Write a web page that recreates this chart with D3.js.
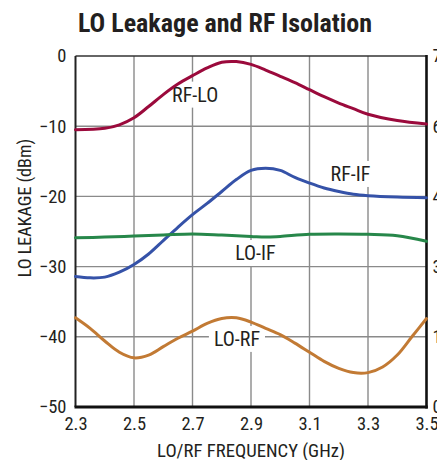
<!DOCTYPE html>
<html><head><meta charset="utf-8">
<script src="https://cdn.jsdelivr.net/npm/d3@7"></script>
<style>
html,body{margin:0;padding:0;background:#fff;overflow:hidden}
text{font-family:"Liberation Sans Narrow","Arial Narrow","Roboto Condensed","DejaVu Sans Condensed",sans-serif;font-stretch:condensed;fill:#231f20}
</style></head>
<body><svg id="c" width="437" height="460"></svg>
<script>
const title = "LO Leakage and RF Isolation";
const xTicks = [2.3, 2.5, 2.7, 2.9, 3.1, 3.3, 3.5];
const yTicks = [0, -10, -20, -30, -40, -50];
const yRightTicks = [75, 60, 45, 30, 15, 0];
const xLabel = "LO/RF FREQUENCY (GHz)";
const yLabel = "LO LEAKAGE (dBm)";

const rfLoFreq = [2.3,2.4,2.45,2.5,2.55,2.6,2.65,2.7,2.75,2.8,2.85,2.9,2.95,3.0,3.05,3.1,3.15,3.2,3.25,3.3,3.4,3.5];
const rfLo     = [-10.5,-10.3,-9.8,-8.8,-7.2,-5.5,-4.0,-2.8,-1.7,-0.9,-0.8,-1.2,-2.0,-2.9,-3.8,-4.8,-5.8,-6.7,-7.5,-8.3,-9.2,-9.7];

const rfIfFreq = [2.3,2.35,2.4,2.45,2.5,2.55,2.6,2.65,2.7,2.75,2.8,2.85,2.9,2.95,3.0,3.05,3.1,3.15,3.2,3.25,3.3,3.4,3.5];
const rfIf     = [-31.4,-31.6,-31.5,-30.8,-29.7,-28.2,-26.3,-24.4,-22.6,-21.0,-19.3,-17.6,-16.3,-16.0,-16.3,-17.3,-18.1,-18.8,-19.3,-19.7,-19.9,-20.1,-20.2];

const loIfFreq = [2.3,2.4,2.5,2.6,2.7,2.8,2.9,2.95,3.0,3.1,3.2,3.3,3.4,3.5];
const loIf     = [-25.9,-25.8,-25.65,-25.5,-25.35,-25.5,-25.7,-25.8,-25.7,-25.4,-25.35,-25.4,-25.6,-26.4];

const loRfFreq = [2.3,2.35,2.4,2.45,2.5,2.55,2.6,2.65,2.7,2.75,2.8,2.85,2.9,2.95,3.0,3.05,3.1,3.15,3.2,3.25,3.3,3.35,3.4,3.45,3.5];
const loRf     = [-37.3,-38.8,-40.6,-42.2,-43.0,-42.6,-41.4,-40.2,-39.2,-38.1,-37.4,-37.3,-37.9,-38.8,-39.7,-40.9,-42.2,-43.5,-44.5,-45.1,-45.1,-44.3,-42.6,-40.0,-37.4];

const seriesNames = ["RF-LO","RF-IF","LO-IF","LO-RF"];
const seriesColors = ["#9b0a3c","#3552a8","#27874a","#c27a34"];

const svg = d3.select("#c");
const L = 75.5, R = 426.5, T = 56, B = 407;
const x = d3.scaleLinear().domain([2.3, 3.5]).range([L, R]);
const y = d3.scaleLinear().domain([-50, 0]).range([B, T]);
const y2 = d3.scaleLinear().domain([0, 75]).range([B, T]);

// title
svg.append("text").attr("x", 225).attr("y", 32).attr("text-anchor","middle")
  .style("font-size","26px").style("font-weight","bold").text(title);

// grid
const g = svg.append("g");
g.selectAll(".gx").data(xTicks.slice(1,-1)).join("line")
  .attr("x1", d=>x(d)).attr("x2", d=>x(d)).attr("y1", T).attr("y2", B)
  .attr("stroke","#8a8a8a").attr("stroke-width",1.4);
g.selectAll(".gy").data(yTicks.slice(1,-1)).join("line")
  .attr("x1", L).attr("x2", R).attr("y1", d=>y(d)).attr("y2", d=>y(d))
  .attr("stroke","#8a8a8a").attr("stroke-width",1.4);

// axes with d3
const yAxis = d3.axisLeft(y).tickValues(yTicks).tickSize(0).tickPadding(9)
  .tickFormat(d => d === 0 ? "0" : "\u2212" + Math.abs(d));
const ya = svg.append("g").attr("transform",`translate(${L},0)`).call(yAxis);
ya.select(".domain").remove();
ya.selectAll("text").style("font-size","18.5px").attr("fill","#231f20");

const xAxis = d3.axisBottom(x).tickValues(xTicks).tickSize(0).tickPadding(10).tickFormat(d3.format(".1f"));
const xa = svg.append("g").attr("transform",`translate(0,${B})`).call(xAxis);
xa.select(".domain").remove();
xa.selectAll("text").style("font-size","18.5px").attr("fill","#231f20");

const y2Axis = d3.axisRight(y2).tickValues(yRightTicks).tickSize(0).tickPadding(6);
const y2a = svg.append("g").attr("transform",`translate(${R},0)`).call(y2Axis);
y2a.select(".domain").remove();
y2a.selectAll("text").style("font-size","18.5px").attr("fill","#231f20");

// frame
svg.append("line").attr("x1",L).attr("x2",R).attr("y1",T).attr("y2",T).attr("stroke","#333").attr("stroke-width",1.6);
svg.append("line").attr("x1",L).attr("x2",L).attr("y1",T).attr("y2",B).attr("stroke","#222").attr("stroke-width",2);
svg.append("line").attr("x1",R).attr("x2",R).attr("y1",T-1).attr("y2",B+1.5).attr("stroke","#111").attr("stroke-width",2.6);
svg.append("line").attr("x1",L-1).attr("x2",R+1.3).attr("y1",B).attr("y2",B).attr("stroke","#111").attr("stroke-width",3);

// axis titles
svg.append("text").attr("x", (L+R)/2).attr("y", 457).attr("text-anchor","middle")
  .style("font-size","18.7px").text(xLabel);
svg.append("text").attr("transform","translate(31,208) rotate(-90)").attr("text-anchor","middle")
  .style("font-size","18px").text(yLabel);

// series labels with white backgrounds
const labelPos = [
  {f:2.709, v:-6.5, name:"RF-LO"},
  {f:3.240, v:-17.8, name:"RF-IF"},
  {f:2.915, v:-29.06, name:"LO-IF"},
  {f:2.852, v:-41.3, name:"LO-RF"}
];
const lg = svg.append("g");
labelPos.forEach(p => {
  const t = lg.append("text").attr("x", x(p.f)).attr("y", y(p.v)).attr("text-anchor","middle")
    .style("font-size","20px").text(p.name);
  const bb = t.node().getBBox();
  lg.insert("rect","text").attr("x", bb.x-5).attr("y", bb.y-1).attr("width", bb.width+10).attr("height", bb.height+2).attr("fill","#fff");
});

// lines
const line = d3.line().x(d=>x(d[0])).y(d=>y(d[1])).curve(d3.curveCatmullRom.alpha(0.5));
const data = [
  d3.zip(rfLoFreq, rfLo),
  d3.zip(rfIfFreq, rfIf),
  d3.zip(loIfFreq, loIf),
  d3.zip(loRfFreq, loRf)
];
svg.append("g").selectAll("path").data(data).join("path")
  .attr("d", line).attr("fill","none")
  .attr("stroke",(d,i)=>seriesColors[i]).attr("stroke-width",3)
  .attr("stroke-linecap","round").attr("stroke-linejoin","round");
</script></body></html>
